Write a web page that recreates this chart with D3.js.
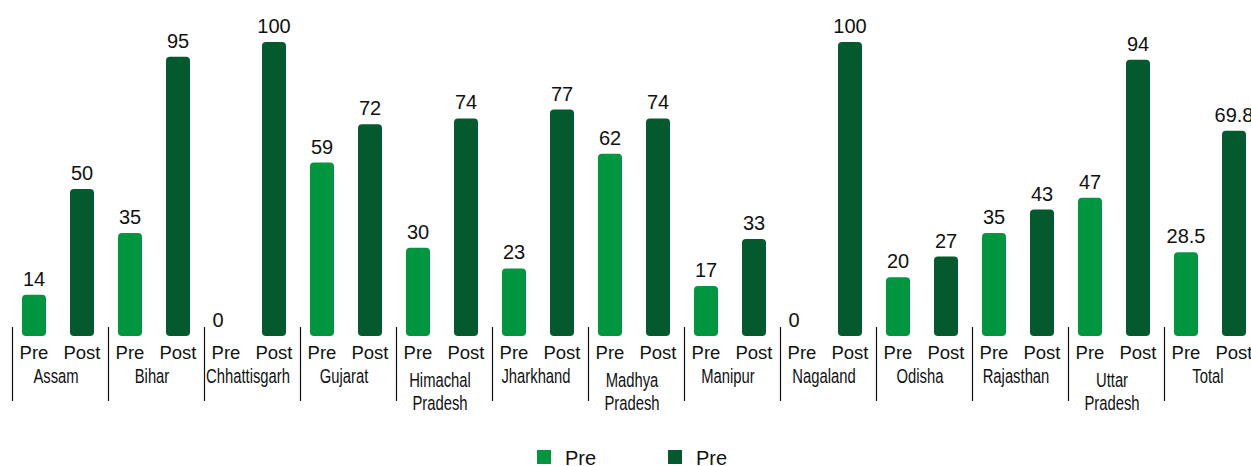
<!DOCTYPE html>
<html><head><meta charset="utf-8">
<script src="https://cdn.jsdelivr.net/npm/d3@7"></script>
<style>body{margin:0;background:#fff}svg{display:block;font-family:"Liberation Sans",Arial,sans-serif}</style>
</head><body><svg id="c" width="1251" height="466"></svg>
<script>
const states = ["Assam","Bihar","Chhattisgarh","Gujarat","Himachal Pradesh","Jharkhand","Madhya Pradesh","Manipur","Nagaland","Odisha","Rajasthan","Uttar Pradesh","Total"];
const stateLines = [["Assam"],["Bihar"],["Chhattisgarh"],["Gujarat"],["Himachal","Pradesh"],["Jharkhand"],["Madhya","Pradesh"],["Manipur"],["Nagaland"],["Odisha"],["Rajasthan"],["Uttar","Pradesh"],["Total"]];
const phases = ["Pre","Post"];
const preValues = [14,35,0,59,30,23,62,17,0,20,35,47,28.5];
const postValues = [50,95,100,72,74,77,74,33,100,27,43,94,69.8];
const legendLabels = ["Pre","Pre"];
const colors = {Pre:"#00963f", Post:"#035a2e"};

const svg = d3.select("#c");
const x0 = d3.scaleBand().domain(states).range([10, 10 + 96*states.length]);
const x1 = d3.scaleBand().domain(phases).range([0, x0.bandwidth()]).paddingInner(0.5).paddingOuter(0.25);
const y = d3.scaleLinear().domain([0,100]).range([336,42]);

const data = [];
states.forEach((s,i)=>{
  data.push({s, p:"Pre", v:preValues[i]});
  data.push({s, p:"Post", v:postValues[i]});
});

const g = svg.append("g");
g.selectAll("path.bar").data(data.filter(d=>d.v>0)).join("path")
  .attr("class","bar")
  .attr("fill", d=>colors[d.p])
  .attr("d", d=>{
    const x = x0(d.s)+x1(d.p), w = x1.bandwidth(), yt = y(d.v), yb = y(0), r = 4;
    return `M${x},${yb-r} L${x},${yt+r} Q${x},${yt} ${x+r},${yt} L${x+w-r},${yt} Q${x+w},${yt} ${x+w},${yt+r} L${x+w},${yb-r} Q${x+w},${yb} ${x+w-r},${yb} L${x+r},${yb} Q${x},${yb} ${x},${yb-r} Z`;
  });

g.selectAll("text.val").data(data).join("text")
  .attr("class","val")
  .attr("x", d=>x0(d.s)+x1(d.p)+x1.bandwidth()/2 - (d.v===0?8:0))
  .attr("y", d=>y(d.v)-9)
  .attr("text-anchor","middle")
  .attr("font-size",20)
  .attr("fill","#111")
  .text(d=>d.v);

// category (phase) labels
g.selectAll("text.ph").data(data).join("text")
  .attr("class","ph")
  .attr("x", d=>x0(d.s)+x1(d.p)+x1.bandwidth()/2)
  .attr("y", 359)
  .attr("text-anchor","middle")
  .attr("font-size",18.5)
  .attr("fill","#111")
  .text(d=>d.p);

// group labels (condensed)
states.forEach((s,i)=>{
  const lines = stateLines[i];
  const cx = x0(s)+x0.bandwidth()/2 - 2;
  const baseY = lines.length > 1 ? [387, 410] : [383];
  lines.forEach((l,j)=>{
    g.append("text")
      .attr("transform", `translate(${cx},${baseY[j]}) scale(0.76,1)`)
      .attr("text-anchor","middle")
      .attr("font-size",19.5)
      .attr("fill","#111")
      .text(l);
  });
});

// separators
g.selectAll("line.sep").data(states).join("line")
  .attr("class","sep")
  .attr("x1", d=>x0(d)+2.5).attr("x2", d=>x0(d)+2.5)
  .attr("y1", 327).attr("y2", 401)
  .attr("stroke","#111").attr("stroke-width",1.2);

// legend
const lg = svg.append("g");
const lx = [537, 668];
phases.forEach((p,i)=>{
  lg.append("rect").attr("x", lx[i]).attr("y", 450).attr("width",14).attr("height",14).attr("fill", colors[p]);
  lg.append("text").attr("x", lx[i]+28).attr("y", 465).attr("font-size",20).attr("fill","#111").text(legendLabels[i]);
});
</script></body></html>
